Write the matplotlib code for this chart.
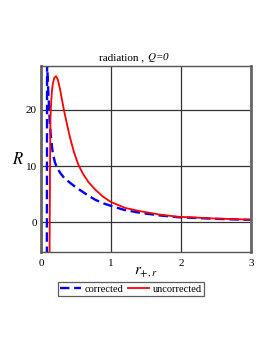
import numpy as np
import matplotlib
matplotlib.use("Agg")
import matplotlib.pyplot as plt

plt.rcParams['font.family'] = ['Liberation Serif', 'DejaVu Serif']

# corrected (blue dashed) - small piece near 0, then pole near r=0.085
corr_x1 = [0.003, 0.006]
corr_y1 = [-5.5, -1.6]
corr_x2 = [0.084, 0.087, 0.095, 0.105, 0.115, 0.125, 0.14, 0.155, 0.17, 0.2,
           0.235, 0.273, 0.33, 0.416, 0.5, 0.584, 0.68, 0.775, 0.88, 1.0,
           1.2, 1.42, 1.7, 1.95, 2.5, 3.0]
corr_y2 = [-6, 28, 26, 23, 20.5, 18, 15.5, 13.6, 12.2, 10.6,
           9.6, 8.8, 7.9, 7.0, 6.2, 5.5, 4.7, 4.0, 3.4, 2.9,
           2.15, 1.67, 1.2, 0.9, 0.6, 0.42]

# uncorrected (red solid)
unc_x = [0.122, 0.125, 0.128, 0.134, 0.14, 0.155, 0.168, 0.19, 0.215, 0.24,
         0.27, 0.3, 0.33, 0.37, 0.416, 0.47, 0.535, 0.6, 0.68, 0.775,
         0.88, 1.0, 1.2, 1.42, 1.7, 1.95, 2.5, 3.0]
unc_y = [-6, 0, 8, 17.9, 20.2, 23.2, 24.6, 25.7, 26, 25.4,
         23.8, 21.8, 19.8, 17.5, 15.0, 12.5, 10.2, 8.6, 7.1, 5.8,
         4.6, 3.6, 2.55, 1.95, 1.35, 0.98, 0.65, 0.45]

fig = plt.figure(figsize=(2.73, 3.53), dpi=100)
ax = fig.add_axes([41/273, 1-252/353, 210/273, 186/353])

ax.plot(corr_x1, corr_y1, color='blue', lw=1.7, ls=(0, (4, 2)))
ln1, = ax.plot(corr_x2, corr_y2, color='blue', lw=1.7, ls=(0, (4, 2)),
               label='corrected')
ln2, = ax.plot(unc_x, unc_y, color='red', lw=1.3, label='uncorrected')

ax.set_xlim(0, 3)
ax.set_ylim(-5.3, 27.8)
ax.set_xticks([0, 1, 2, 3])
ax.set_yticks([0, 10, 20])
ax.tick_params(length=0, labelsize=8, pad=3)
ax.tick_params(axis='x', pad=5)
ax.grid(True, color='#333333', lw=0.9)
ax.set_axisbelow(True)
for s in ['left', 'right']:
    ax.spines[s].set_color('#666666')
    ax.spines[s].set_linewidth(2)
for s in ['top', 'bottom']:
    ax.spines[s].set_color('#555555')
    ax.spines[s].set_linewidth(1)

fig.text(147/273, 1-60/353, 'radiation , ', ha='right', va='baseline', fontsize=8)
fig.text(147/273, 1-60/353, '$Q$=0', ha='left', va='baseline', fontsize=8,
         style='italic', math_fontfamily='stix')
fig.text(18/273, 1-160/353, '$R$', ha='center', va='center', fontsize=12,
         math_fontfamily='stix')
fig.text(146/273, 1-272/353, r'$r_{+,r}$', ha='center', va='center', fontsize=11,
         math_fontfamily='stix')

leg = fig.legend(handles=[ln1, ln2], loc='center', ncol=2,
                 bbox_to_anchor=(131/273, 1-289/353), fontsize=7.5,
                 frameon=True, fancybox=False, handlelength=2.0,
                 handletextpad=0.3, columnspacing=0.5, borderpad=0.2)
leg.get_frame().set_edgecolor('#333333')
leg.get_frame().set_linewidth(0.9)

fig.savefig('out.png', dpi=100)
